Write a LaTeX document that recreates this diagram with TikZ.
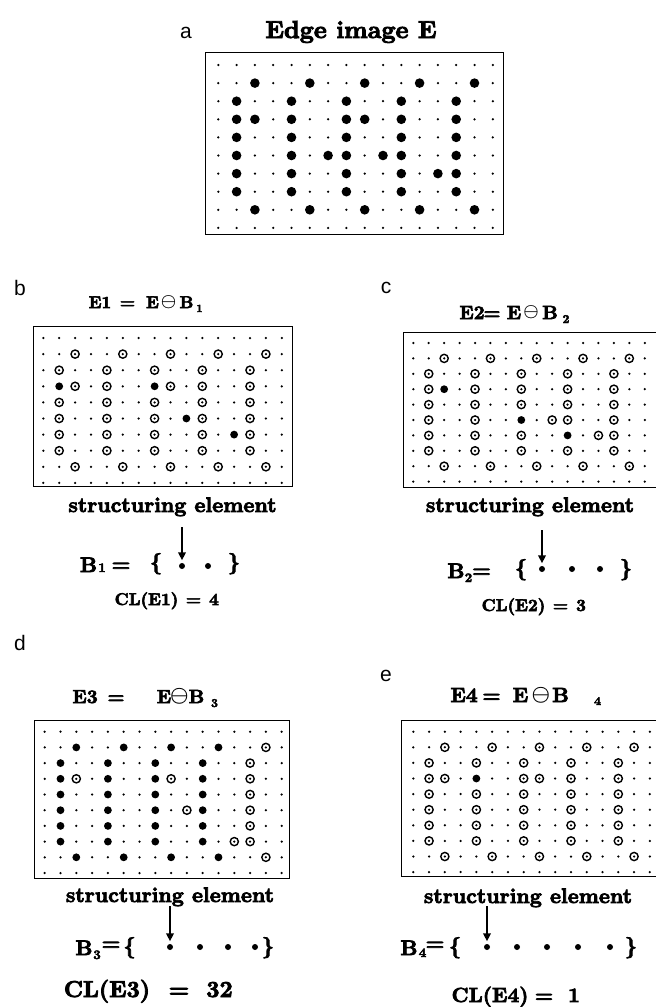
\documentclass[tikz,border=0pt]{standalone}
\usepackage{fontspec}
\newfontfamily\labelsans{Liberation Sans}
\newfontfamily\heavy{lmroman10-bold.otf}[FakeBold=3.5]
\usetikzlibrary{arrows.meta}

% small grid dots: x0, y0, dx, dy
\newcommand\panelgrid[4]{%
  \foreach \c in {0,...,15}{\foreach \r in {0,...,9}{%
    \fill ({#1+\c*#3},{#2+\r*#4}) circle[radius=1.25pt];}}}
% filled markers: x0, y0, dx, dy, radius, list col/row
\newcommand\discsat[6]{%
  \foreach \c/\r in {#6}{\fill ({#1+\c*#3},{#2+\r*#4}) circle[radius=#5];}}
% open rings around the grid dot: x0, y0, dx, dy, list col/row
\newcommand\ringsat[5]{%
  \foreach \c/\r in {#5}{\draw[line width=1.4pt] ({#1+\c*#3},{#2+\r*#4}) circle[radius=4.1pt];}}

\tikzset{
  frame/.style={line width=0.8pt},
  txt/.style={inner sep=0pt, anchor=base},
  t17/.style={txt, font=\heavy\fontsize{17}{20}\selectfont},
  t19/.style={txt, font=\heavy\fontsize{19}{22}\selectfont},
  t20/.style={txt, font=\heavy\fontsize{20.5}{24}\selectfont},
  t21/.style={txt, font=\heavy\fontsize{21}{24}\selectfont},
  t23/.style={txt, font=\heavy\fontsize{23}{26}\selectfont},
  sub/.style={txt, font=\heavy\fontsize{13}{15}\selectfont},
  om/.style={inner sep=0pt, font=\boldmath},
  lbl/.style={inner sep=0pt, font=\labelsans\fontsize{21}{24}\selectfont},
  sedot/.style={circle, fill, inner sep=0pt, minimum size=6pt},
  pointer/.style={-{Triangle[length=8pt,width=7.5pt]}, line width=2.2pt, shorten >=2.5pt},
}

\begin{document}
\begin{tikzpicture}[x=1pt,y=-1pt]
\useasboundingbox (0,0) rectangle (656,1007);

% ---------------- a: edge image ----------------
\node[lbl] (la) at (186,33) {a};
\node[txt, font=\heavy\fontsize{24.6}{28}\selectfont] (ta) at (351,38) {Edge image E};
\draw[frame] (205,52) rectangle (503,234);
\panelgrid{218.3}{65}{18.3}{18.1}
\discsat{218.3}{65}{18.3}{18.1}{4.8pt}{2/1,5/1,8/1,11/1,14/1,
  1/2,4/2,7/2,10/2,13/2, 1/3,2/3,4/3,7/3,8/3,10/3,13/3,
  1/4,4/4,7/4,10/4,13/4, 1/5,4/5,6/5,7/5,9/5,10/5,13/5,
  1/6,4/6,7/6,10/6,12/6,13/6, 1/7,4/7,7/7,10/7,13/7,
  2/8,5/8,8/8,11/8,14/8}

% ---------------- b: E1 ----------------
\node[lbl] (lb) at (20,288) {b};
\node[t17] (tb1) at (100,308) {E1};
\node[t17] (tb2) at (127.5,308) {=};
\node[t17] (tb3) at (152.5,308) {E};
\node[om, font=\boldmath\fontsize{16.5}{18}\selectfont] (tb4) at (168.5,302.5) {$\ominus$};
\node[t17] (tb5) at (186.5,308) {B};
\node[sub, font=\heavy\fontsize{11}{12}\selectfont] (tb6) at (199.5,312) {1};
\draw[frame] (33,326) rectangle (292.5,486);
\panelgrid{43.3}{338}{15.9}{16.1}
\ringsat{43.3}{338}{15.9}{16.1}{2/1,5/1,8/1,11/1,14/1,
  1/2,4/2,7/2,10/2,13/2, 2/3,4/3,8/3,10/3,13/3,
  1/4,4/4,7/4,10/4,13/4, 1/5,4/5,7/5,10/5,13/5,
  1/6,4/6,7/6,10/6,13/6, 1/7,4/7,7/7,10/7,13/7,
  2/8,5/8,8/8,11/8,14/8}
\discsat{43.3}{338}{15.9}{16.1}{3.9pt}{1/3,7/3,9/5,12/6}
\node[t21] (seb) at (172.5,512) {structuring element};
\node[t21] (Bb) at (88.5,572) {B};
\node[sub] (Bbs) at (102,572) {1};
\node[t21] (eqb) at (121,571) {=};
\node[t21] (lbrb) at (156,569) {\{};
\node[sedot] (db1) at (182,566) {};
\node[sedot] (db2) at (208,566) {};
\node[t21] (rbrb) at (234,569) {\}};
\coordinate (ab) at (182,527);
\draw[pointer] (ab) -- (db1);
\node[t17] (clb1) at (146.5,605) {CL(E1)};
\node[t17] (clb2) at (193.5,605) {=};
\node[t17] (clb3) at (214,605) {4};

% ---------------- c: E2 ----------------
\node[lbl] (lc) at (386,288) {c};
\node[t19] (tc1) at (472,319) {E2};
\node[t19] (tc2) at (492,319) {=};
\node[t19] (tc3) at (514,319) {E};
\node[om, font=\boldmath\fontsize{19}{21}\selectfont] (tc4) at (531,312.5) {$\ominus$};
\node[t19] (tc5) at (550,319) {B};
\node[sub, font=\heavy\fontsize{12}{13}\selectfont] (tc6) at (566,323) {2};
\draw[frame] (403,332) rectangle (662,487);
\panelgrid{413.3}{343}{15.43}{15.4}
\ringsat{413.3}{343}{15.43}{15.4}{2/1,5/1,8/1,11/1,14/1,
  1/2,4/2,7/2,10/2,13/2, 1/3,4/3,7/3,10/3,13/3,
  1/4,4/4,7/4,10/4,13/4, 1/5,4/5,9/5,10/5,13/5,
  1/6,4/6,7/6,12/6,13/6, 1/7,4/7,7/7,10/7,13/7,
  2/8,5/8,8/8,11/8,14/8}
\discsat{413.3}{343}{15.43}{15.4}{3.9pt}{2/3,7/5,10/6}
\node[t21] (sec) at (530,512) {structuring element};
\node[t21] (Bc) at (456,578) {B};
\node[sub] (Bcs) at (468.5,582) {2};
\node[t21] (eqc) at (481.5,577) {=};
\node[t21] (lbrc) at (521,575) {\{};
\node[sedot] (dc1) at (542,569) {};
\node[sedot] (dc2) at (572,569) {};
\node[sedot] (dc3) at (600,569) {};
\node[t21] (rbrc) at (626,575) {\}};
\coordinate (ac) at (542,530);
\draw[pointer] (ac) -- (dc1);
\node[t17] (clc1) at (513.5,611) {CL(E2)};
\node[t17] (clc2) at (560.5,611) {=};
\node[t17] (clc3) at (581,611) {3};

% ---------------- d: E3 ----------------
\node[lbl] (ld) at (20,643) {d};
\node[t19] (td1) at (85,703) {E3};
\node[t19] (td2) at (116,703) {=};
\node[t19] (td3) at (164,703) {E};
\node[om, font=\boldmath\fontsize{19.5}{21}\selectfont] (td4) at (179.5,696.5) {$\ominus$};
\node[t19] (td5) at (196.5,703) {B};
\node[sub, font=\heavy\fontsize{12}{13}\selectfont] (td6) at (214.5,707) {3};
\draw[frame] (34,720) rectangle (289.7,878);
\panelgrid{44.7}{731.7}{15.8}{15.7}
\discsat{44.7}{731.7}{15.8}{15.7}{3.9pt}{2/1,5/1,8/1,11/1,
  1/2,4/2,7/2,10/2, 1/3,4/3,7/3,10/3, 1/4,4/4,7/4,10/4,
  1/5,4/5,7/5,10/5, 1/6,4/6,7/6,10/6, 1/7,4/7,7/7,10/7,
  2/8,5/8,8/8,11/8}
\ringsat{44.7}{731.7}{15.8}{15.7}{14/1,13/2,2/3,8/3,13/3,13/4,9/5,13/5,13/6,12/7,13/7,14/8}
\node[t21] (sed) at (170,902) {structuring element};
\node[t21] (Bd) at (84,955) {B};
\node[sub] (Bds) at (97,959) {3};
\node[t21] (eqd) at (111,950) {=};
\node[t21] (lbrd) at (129.5,953) {\{};
\node[sedot] (dd1) at (170,947) {};
\node[sedot] (dd2) at (200,947) {};
\node[sedot] (dd3) at (228,947) {};
\node[sedot] (dd4) at (255,947) {};
\node[t21] (rbrd) at (268,953) {\}};
\coordinate (ad) at (170,906);
\draw[pointer] (ad) -- (dd1);
\node[t23] (cld1) at (107,997) {CL(E3)};
\node[t23] (cld2) at (179,997) {=};
\node[t23] (cld3) at (219.5,997) {32};

% ---------------- e: E4 ----------------
\node[lbl] (le) at (386,676) {e};
\node[t20] (te1) at (464,702) {E4};
\node[t20] (te2) at (491.5,702) {=};
\node[t20] (te3) at (520.5,702) {E};
\node[om, font=\boldmath\fontsize{21}{23}\selectfont] (te4) at (541,695) {$\ominus$};
\node[t20] (te5) at (560.5,702) {B};
\node[sub, font=\heavy\fontsize{12}{13}\selectfont] (te6) at (597.5,705) {4};
\draw[frame] (401.7,720) rectangle (662,876.7);
\panelgrid{413.3}{731.7}{15.77}{15.6}
\ringsat{413.3}{731.7}{15.77}{15.6}{2/1,5/1,8/1,11/1,14/1,
  1/2,4/2,7/2,10/2,13/2, 1/3,2/3,7/3,8/3,10/3,13/3,
  1/4,4/4,7/4,10/4,13/4, 1/5,4/5,7/5,10/5,13/5,
  1/6,4/6,7/6,10/6,13/6, 1/7,4/7,7/7,10/7,13/7,
  2/8,5/8,8/8,11/8,14/8}
\discsat{413.3}{731.7}{15.77}{15.6}{3.9pt}{4/3}
\node[t21] (see) at (528,903) {structuring element};
\node[t21] (Be) at (409,955) {B};
\node[sub] (Be4) at (422.5,957) {4};
\node[t21] (eqe) at (435,950) {=};
\node[t21] (lbre) at (455,953) {\{};
\node[sedot] (de1) at (487,947) {};
\node[sedot] (de2) at (517,947) {};
\node[sedot] (de3) at (547,947) {};
\node[sedot] (de4) at (578,947) {};
\node[sedot] (de5) at (610,947) {};
\node[t21] (rbre) at (631,953) {\}};
\coordinate (ae) at (487,906);
\draw[pointer] (ae) -- (de1);
\node[t20] (cle1) at (490,1002) {CL(E4)};
\node[t20] (cle2) at (544,1002) {=};
\node[t20] (cle3) at (574,1002) {1};
\end{tikzpicture}
\end{document}
